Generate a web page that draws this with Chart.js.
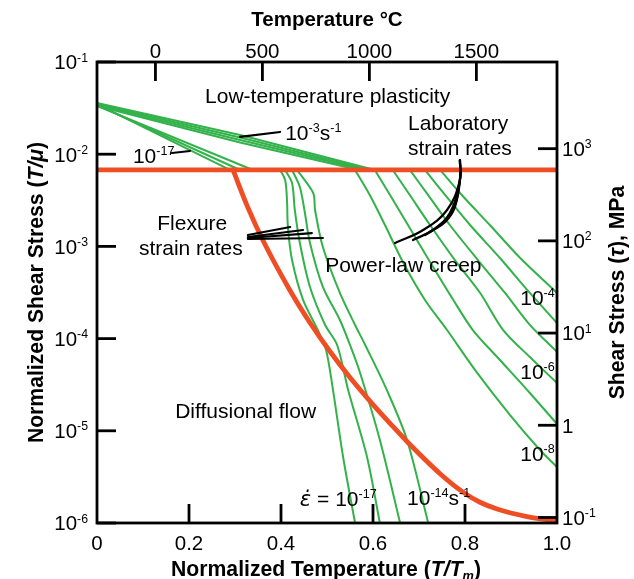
<!DOCTYPE html>
<html><head><meta charset="utf-8">
<script src="https://cdn.jsdelivr.net/npm/chart.js@4"></script>
<style>html,body{margin:0;padding:0;background:#fff}#wrap{width:634px;height:579px}</style>
</head><body><div id="wrap"><canvas id="c" width="634" height="579"></canvas></div>
<script>
// ---------- DATA (x = T/Tm, values = log10(shear stress / shear modulus)) ----------
const Tm = 2150;          // K, melting temperature (top axis)
const logMu = 4.94;       // log10 shear modulus in MPa (right axis)

const xTicks = [0.2, 0.4, 0.6, 0.8];
const xTickLabels = ['0', '0.2', '0.4', '0.6', '0.8', '1.0'];
const xTickLabelVals = [0, 0.2, 0.4, 0.6, 0.8, 1.0];
const topTicks = [0, 500, 1000, 1500];
const leftTickExp = [-1, -2, -3, -4, -5, -6];
const rightTickExp = [3, 2, 1, 0, -1];

// field boundaries
const boundaryT = [0, 1];
const boundaryS = [-2.171, -2.171];
const diffusionT = [0.2957, 0.3283, 0.3609, 0.4196, 0.4630, 0.5065, 0.5500, 0.6000, 0.6370, 0.6739, 0.7457, 0.7957, 0.8326, 0.8696, 0.9348, 1.0];
const diffusionS = [-2.171, -2.582, -2.936, -3.478, -3.828, -4.140, -4.422, -4.716, -4.919, -5.116, -5.465, -5.665, -5.775, -5.848, -5.930, -5.978];

// low-temperature plasticity contours (fast bundle)
const ltFast1T = [0, 0.311, 0.604], ltFast1S = [-1.445, -1.792, -2.171];
const ltFast2T = [0, 0.311, 0.593], ltFast2S = [-1.456, -1.819, -2.171];
const ltFast3T = [0, 0.311, 0.583], ltFast3S = [-1.467, -1.846, -2.171];
const ltFast4T = [0, 0.311, 0.570], ltFast4S = [-1.477, -1.873, -2.171];
// low-temperature plasticity contours (slow bundle)
const ltSlow1T = [0, 0.289], ltSlow1S = [-1.456, -2.171];
const ltSlow2T = [0, 0.311], ltSlow2S = [-1.466, -2.171];
const ltSlow3T = [0, 0.339], ltSlow3S = [-1.477, -2.171];

// flexure strain-rate contours 1e-17 ... 1e-14
const r17T = [0.398, 0.409, 0.413, 0.415, 0.424, 0.448, 0.480, 0.498, 0.513, 0.535, 0.561];
const r17S = [-2.171, -2.280, -2.497, -2.790, -3.148, -3.581, -3.907, -4.124, -4.557, -5.284, -6.0];
const r16T = [0.409, 0.424, 0.430, 0.441, 0.463, 0.496, 0.522, 0.546, 0.587, 0.615];
const r16S = [-2.171, -2.312, -2.605, -2.963, -3.440, -3.852, -4.069, -4.557, -5.284, -6.0];
const r15T = [0.424, 0.441, 0.452, 0.463, 0.491, 0.528, 0.550, 0.572, 0.615, 0.659];
const r15S = [-2.171, -2.356, -2.638, -2.963, -3.440, -3.798, -4.069, -4.373, -5.100, -6.0];
const r14T = [0.435, 0.470, 0.474, 0.491, 0.528, 0.561, 0.583, 0.630, 0.674, 0.720];
const r14S = [-2.171, -2.421, -2.605, -3.007, -3.505, -3.852, -4.069, -4.557, -5.100, -6.0];

// power-law creep contours 1e-9 ... 1e-4
const r9T = [0.561, 0.593, 0.626, 0.665, 0.713, 0.761, 0.822, 0.898, 0.963, 1.0];
const r9S = [-2.171, -2.443, -2.768, -3.169, -3.581, -3.907, -4.341, -4.829, -5.208, -5.393];
const r8T = [0.604, 0.637, 0.676, 0.724, 0.772, 0.817, 0.876, 0.941, 1.0];
const r8S = [-2.171, -2.443, -2.768, -3.169, -3.560, -3.907, -4.232, -4.590, -4.926];
const r7T = [0.643, 0.680, 0.724, 0.778, 0.833, 0.883, 0.941, 1.0];
const r7S = [-2.171, -2.443, -2.768, -3.148, -3.505, -3.907, -4.200, -4.482];
const r6T = [0.680, 0.720, 0.767, 0.828, 0.887, 0.941, 1.0];
const r6S = [-2.171, -2.443, -2.768, -3.148, -3.505, -3.852, -4.145];
const r5T = [0.713, 0.757, 0.811, 0.876, 0.941, 1.0];
const r5S = [-2.171, -2.443, -2.768, -3.126, -3.505, -3.831];
const r4T = [0.746, 0.793, 0.854, 0.920, 1.0];
const r4S = [-2.171, -2.443, -2.768, -3.126, -3.505];

// leader lines
const lead3T = [0.311, 0.398], lead3S = [-1.813, -1.759];
const lead17T = [0.163, 0.202], lead17S = [-1.987, -1.965];
const flexLead1T = [0.328, 0.420], flexLead1S = [-2.876, -2.790];
const flexLead2T = [0.328, 0.448], flexLead2S = [-2.898, -2.822];
const flexLead3T = [0.328, 0.467], flexLead3S = [-2.909, -2.855];
const flexLead4T = [0.328, 0.491], flexLead4S = [-2.920, -2.909];
const lab1T = [0.789, 0.789, 0.761, 0.709, 0.648], lab1S = [-2.063, -2.280, -2.605, -2.822, -2.963];
const lab2T = [0.789, 0.789, 0.767, 0.730, 0.687], lab2S = [-2.063, -2.280, -2.638, -2.822, -2.931];
const lab3T = [0.789, 0.789, 0.774, 0.746, 0.713], lab3S = [-2.063, -2.280, -2.605, -2.768, -2.876];
const lab4T = [0.789, 0.789, 0.778, 0.757, 0.724], lab4S = [-2.063, -2.280, -2.573, -2.735, -2.844];

// ---------- BUILD ----------
const GREEN = '#33b24b', RED = '#ef4e24', FAMILY = '"Liberation Sans", Arial, Helvetica, sans-serif';
const pts = (T, S) => T.map((t, i) => ({x: t, y: Math.pow(10, S[i])}));
const ds = (T, S, color, w, order, tension, mono) => ({data: pts(T, S), borderColor: color, borderWidth: w, pointRadius: 0, fill: false, tension: tension, cubicInterpolationMode: mono ? 'monotone' : 'default', order: order, borderCapStyle: 'round', borderJoinStyle: 'round'});

const greens = [
  [ltFast1T, ltFast1S, 0], [ltFast2T, ltFast2S, 0], [ltFast3T, ltFast3S, 0], [ltFast4T, ltFast4S, 0],
  [ltSlow1T, ltSlow1S, 0], [ltSlow2T, ltSlow2S, 0], [ltSlow3T, ltSlow3S, 0],
  [r17T, r17S, 0.3], [r16T, r16S, 0.3], [r15T, r15S, 0.3], [r14T, r14S, 0.3],
  [r9T, r9S, 0.3], [r8T, r8S, 0.3], [r7T, r7S, 0.3], [r6T, r6S, 0.3], [r5T, r5S, 0.3], [r4T, r4S, 0.3]
];
const blacks = [
  [lead3T, lead3S, 0], [lead17T, lead17S, 0],
  [flexLead1T, flexLead1S, 0], [flexLead2T, flexLead2S, 0], [flexLead3T, flexLead3S, 0], [flexLead4T, flexLead4S, 0],
  [lab1T, lab1S, 0.4], [lab2T, lab2S, 0.4], [lab3T, lab3S, 0.4], [lab4T, lab4S, 0.4]
];
const datasets = [];
blacks.forEach(b => datasets.push(ds(b[0], b[1], '#000', 2.2, 0, b[2])));
datasets.push(ds(boundaryT, boundaryS, RED, 4.8, 1, 0));
datasets.push(ds(diffusionT, diffusionS, RED, 4.8, 1, 0.4, true));
greens.forEach(g => datasets.push(ds(g[0], g[1], GREEN, 2, 2, g[2])));

const notes = [
  {parts: ['Low-temperature plasticity'], t: 0.235, s: -1.358, align: 'left'},
  {parts: ['10', '^-3', 's', '^-1'], t: 0.409, s: -1.759, align: 'left'},
  {parts: ['10', '^-17'], t: 0.078, s: -2.009, align: 'left'},
  {parts: ['Laboratory'], t: 0.676, s: -1.651, align: 'left'},
  {parts: ['strain rates'], t: 0.676, s: -1.922, align: 'left'},
  {parts: ['Flexure'], t: 0.207, s: -2.735, align: 'center'},
  {parts: ['strain rates'], t: 0.204, s: -3.007, align: 'center'},
  {parts: ['Power-law creep'], t: 0.496, s: -3.191, align: 'left'},
  {parts: ['Diffusional flow'], t: 0.170, s: -4.774, align: 'left'},
  {parts: ['!\u03B5\u0307', ' = 10', '^-17'], t: 0.441, s: -5.729, align: 'left'},
  {parts: ['10', '^-14', 's', '^-1'], t: 0.674, s: -5.718, align: 'left'},
  {parts: ['10', '^-4'], t: 0.920, s: -3.549, align: 'left'},
  {parts: ['10', '^-6'], t: 0.920, s: -4.351, align: 'left'},
  {parts: ['10', '^-8'], t: 0.920, s: -5.241, align: 'left'}
];

function segs(parts) {
  return parts.map(p => {
    const c = p[0];
    if (c === '^') return {t: p.slice(1), k: 'sup'};
    if (c === '_') return {t: p.slice(1), k: 'sub'};
    if (c === '%') return {t: p.slice(1), k: 'subit'};
    if (c === '*') return {t: p.slice(1), k: 'it'};
    if (c === '!') return {t: p.slice(1), k: 'gk'};
    return {t: p, k: 'n'};
  });
}
function fontOf(k, size, bold) {
  if (k === 'gk') return 'italic ' + size + 'px "DejaVu Sans", sans-serif';
  const small = (k === 'sup' || k === 'sub' || k === 'subit');
  const it = (k === 'it' || k === 'subit');
  return (it ? 'italic ' : '') + (bold ? 'bold ' : '') + (small ? size * 0.6 : size) + 'px ' + FAMILY;
}
function drawRich(ctx, parts, x, y, align, size, bold, rot) {
  const ss = segs(parts);
  let w = 0;
  ss.forEach(s => { ctx.font = fontOf(s.k, size, bold); s.w = ctx.measureText(s.t).width; w += s.w; });
  ctx.save();
  ctx.translate(x, y);
  if (rot) ctx.rotate(rot);
  let cx = align === 'left' ? 0 : align === 'right' ? -w : -w / 2;
  const base = size * 0.36;
  ctx.textAlign = 'left';
  ctx.textBaseline = 'alphabetic';
  ctx.fillStyle = '#000';
  ss.forEach(s => {
    ctx.font = fontOf(s.k, size, bold);
    let by = base;
    if (s.k === 'sup') by = base - size * 0.38;
    if (s.k === 'sub' || s.k === 'subit') by = base + size * 0.22;
    ctx.fillText(s.t, cx, by);
    cx += s.w;
  });
  ctx.restore();
}

const overlay = {
  id: 'overlay',
  afterDatasetsDraw(chart) {
    const ctx = chart.ctx, a = chart.chartArea;
    const sx = chart.scales.x, sy = chart.scales.y, sx2 = chart.scales.x2, sy2 = chart.scales.y2;
    const TL = 19;
    ctx.save();
    ctx.strokeStyle = '#000';
    ctx.lineWidth = 2.8;
    ctx.lineCap = 'butt';
    ctx.strokeRect(a.left, a.top, a.right - a.left, a.bottom - a.top);
    const seg = (x1, y1, x2, y2) => { ctx.beginPath(); ctx.moveTo(x1, y1); ctx.lineTo(x2, y2); ctx.stroke(); };
    xTicks.forEach(v => { const p = sx.getPixelForValue(v); seg(p, a.bottom, p, a.bottom - TL); });
    topTicks.forEach(v => { const p = sx2.getPixelForValue(v); seg(p, a.top, p, a.top + TL); });
    leftTickExp.forEach(e => { const p = sy.getPixelForValue(Math.pow(10, e)); seg(a.left, p, a.left + TL, p); });
    rightTickExp.forEach(e => { const p = sy2.getPixelForValue(Math.pow(10, e)); seg(a.right, p, a.right - TL, p); });

    // tick labels
    xTickLabelVals.forEach((v, i) => drawRich(ctx, [xTickLabels[i]], sx.getPixelForValue(v), a.bottom + 20, 'center', 20.5, false));
    topTicks.forEach(v => drawRich(ctx, [String(v)], sx2.getPixelForValue(v), a.top - 11, 'center', 20.5, false));
    leftTickExp.forEach(e => drawRich(ctx, ['10', '^' + e], a.left - 9, sy.getPixelForValue(Math.pow(10, e)), 'right', 20.5, false));
    rightTickExp.forEach(e => {
      const parts = e === 0 ? ['1'] : e === 1 ? ['10', '^1'] : ['10', '^' + e];
      drawRich(ctx, parts, a.right + 5, sy2.getPixelForValue(Math.pow(10, e)), 'left', 20.5, false);
    });

    // axis titles
    const midY = (a.top + a.bottom) / 2;
    drawRich(ctx, ['Temperature \u00B0C'], (a.left + a.right) / 2, 19, 'center', 20.5, true);
    drawRich(ctx, ['Normalized Temperature (', '*T/T', '%m', ')'], (a.left + a.right) / 2 - 1, 568, 'center', 21.2, true);
    drawRich(ctx, ['Normalized Shear Stress (', '*T/\u03BC', ')'], 35, midY, 'center', 21.2, true, -Math.PI / 2);
    drawRich(ctx, ['Shear Stress (', '*\u03C4', '), MPa'], 616, midY, 'center', 21.2, true, -Math.PI / 2);

    // annotations
    notes.forEach(n => drawRich(ctx, n.parts, sx.getPixelForValue(n.t), sy.getPixelForValue(Math.pow(10, n.s)), n.align, 21, false));
    ctx.restore();
  }
};

new Chart(document.getElementById('c'), {
  type: 'line',
  data: {datasets: datasets},
  options: {
    responsive: false, animation: false, devicePixelRatio: 1, events: [],
    layout: {padding: {left: 97, right: 77, top: 62, bottom: 56}},
    plugins: {legend: {display: false}, tooltip: {enabled: false}},
    scales: {
      x: {type: 'linear', min: 0, max: 1, display: false},
      y: {type: 'logarithmic', min: 1e-6, max: 1e-1, display: false},
      x2: {type: 'linear', position: 'top', min: -273.15, max: Tm - 273.15, display: false},
      y2: {type: 'logarithmic', position: 'right', min: Math.pow(10, -6 + logMu), max: Math.pow(10, -1 + logMu), display: false}
    }
  },
  plugins: [overlay]
});
</script></body></html>
